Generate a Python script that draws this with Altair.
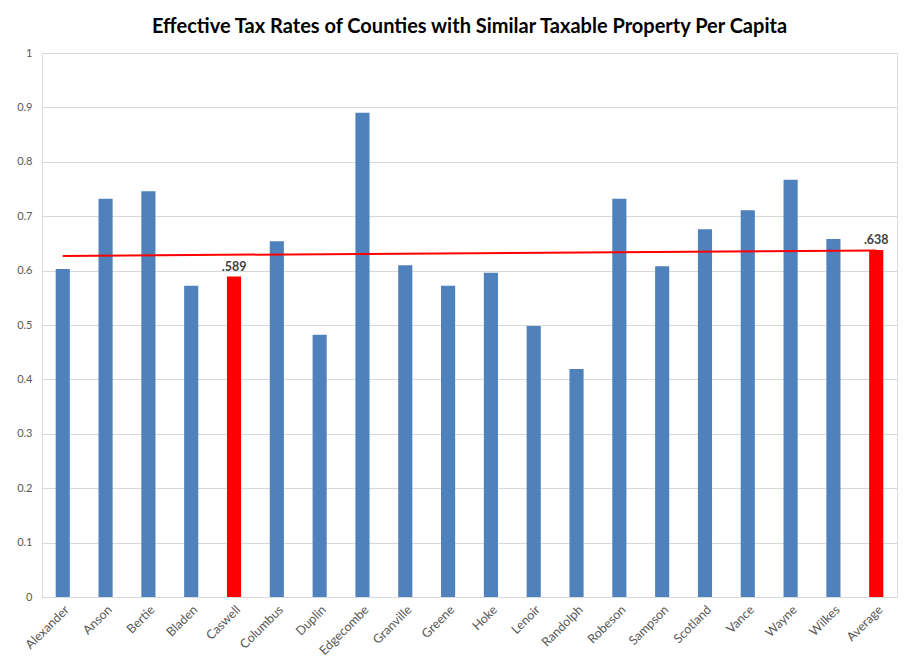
import altair as alt
import pandas as pd

counties = ["Alexander", "Anson", "Bertie", "Bladen", "Caswell", "Columbus", "Duplin",
            "Edgecombe", "Granville", "Greene", "Hoke", "Lenoir", "Randolph", "Robeson",
            "Sampson", "Scotland", "Vance", "Wayne", "Wilkes", "Average"]
rates = [0.603, 0.732, 0.746, 0.572, 0.589, 0.654, 0.482, 0.890, 0.610, 0.572,
         0.596, 0.498, 0.419, 0.732, 0.608, 0.676, 0.711, 0.767, 0.658, 0.638]
highlight = ["Caswell", "Average"]
labels = {"Caswell": ".589", "Average": ".638"}
trend_names = ["Alexander", "Average"]
trend_values = [0.627, 0.637]

df = pd.DataFrame({"county": counties, "rate": rates})
df["hl"] = df["county"].isin(highlight)
df["label"] = df["county"].map(labels).fillna("")
trend = pd.DataFrame({"county": trend_names, "rate": trend_values})

FONT = "Lato"
xscale = alt.Scale(paddingInner=0.67, paddingOuter=0.32)
xenc = alt.X("county:N", sort=counties, title=None, scale=xscale,
             axis=alt.Axis(labelAngle=-45, labelAlign="right", labelBaseline="top",
                           labelColor="#595959", labelFontSize=12.5, labelFont=FONT,
                           ticks=False, domainColor="#d9d9d9", labelPadding=6))

bars = alt.Chart(df).mark_bar().encode(
    x=xenc,
    y=alt.Y("rate:Q", title=None, scale=alt.Scale(domain=[0, 1], nice=False),
            axis=alt.Axis(values=[i / 10 for i in range(11)], labelExpr="datum.value == 0 ? '0' : format(datum.value, '.1~f')",
                          labelColor="#595959", labelFontSize=11, labelFont=FONT,
                          ticks=False, domain=False, gridColor="#d9d9d9", labelPadding=10)),
    color=alt.condition(alt.datum.hl, alt.value("#ff0000"), alt.value("#4f81bd")),
)

text = alt.Chart(df[df["label"] != ""]).mark_text(
    dy=-10, fontSize=12.5, fontWeight="bold", color="#404040", font=FONT
).encode(x=alt.X("county:N", sort=counties), y="rate:Q", text="label:N")

line = alt.Chart(trend).mark_line(color="#ff0000", strokeWidth=2).encode(
    x=alt.X("county:N", sort=counties), y="rate:Q")

chart = alt.layer(bars, line, text).properties(
    width=855, height=544,
    title=alt.TitleParams("Effective Tax Rates of Counties with Similar Taxable Property Per Capita",
                          font=FONT, fontSize=20, fontWeight="bold", color="#000000", offset=10),
    autosize=alt.AutoSizeParams(type="none"),
    padding={"left": 42, "top": 53, "right": 8, "bottom": 65},
).configure_view(stroke=None).configure(background="white")

chart.save("out.html", embed_options={"renderer": "svg", "actions": False})
